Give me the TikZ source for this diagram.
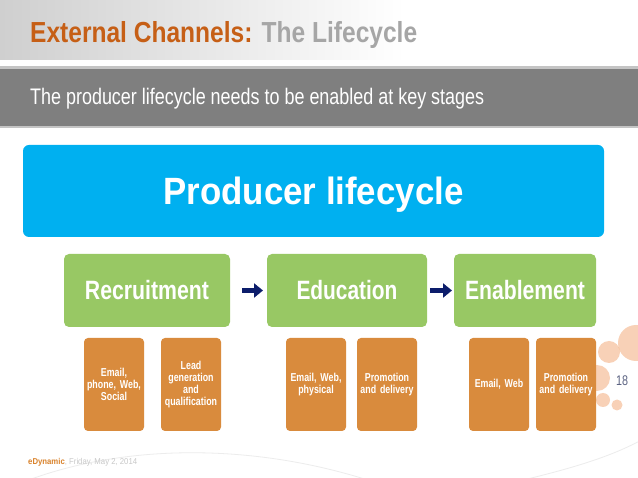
\documentclass[tikz,border=0pt]{standalone}
\usepackage{fontspec}
\setmainfont{Liberation Sans}
\newfontfamily\cnd[FakeStretch=0.77]{Liberation Sans}
\usepackage{graphicx}
\usetikzlibrary{arrows.meta}
\definecolor{ttlorange}{HTML}{C65F16}
\definecolor{ttlgray}{HTML}{A6A6A6}
\definecolor{bandgray}{HTML}{7F7F7F}
\definecolor{bandedge}{HTML}{C4C4C4}
\definecolor{hdrgray}{HTML}{CFCFCF}
\definecolor{plcblue}{HTML}{00B0F0}
\definecolor{stagegreen}{HTML}{98C864}
\definecolor{suborange}{HTML}{D98B3D}
\definecolor{arrownavy}{HTML}{0C1D6B}
\definecolor{pagenum}{HTML}{5B6382}
\definecolor{dotpeach}{HTML}{F2A570}
\definecolor{ftorange}{HTML}{D9822B}
\definecolor{ftgray}{HTML}{C8C8C8}
\definecolor{arcgray}{HTML}{ECECEC}
\newcommand\wfit[2]{\resizebox{#1}{\height}{#2}}
\tikzset{
  boxbase/.style={rectangle, inner sep=0pt, outer sep=0pt, anchor=north west, text=white},
  bluebox/.style={boxbase, fill=plcblue, rounded corners=6pt},
  stagebox/.style={boxbase, fill=stagegreen, rounded corners=5pt, minimum height=73pt},
  subbox/.style={boxbase, fill=suborange, rounded corners=4pt, minimum width=60pt, minimum height=93pt,
    text width=58pt, align=center, font=\cnd\bfseries\fontsize{11.5}{12}\selectfont},
  stagearrow/.style={draw=arrownavy, line width=5pt, -{Triangle[length=9pt,width=14pt]}},
  dot/.style={fill=dotpeach, fill opacity=0.5, draw=none},
  arcline/.style={draw=arcgray, line width=0.8pt},
}
\begin{document}
\begin{tikzpicture}[x=1pt,y=-1pt]
\useasboundingbox (0,0) rectangle (638,478);
\fill[white] (0,0) rectangle (638,478);
% header
\shade[left color=hdrgray, right color=white] (0,0) rectangle (405,60);
\fill[bandedge] (0,66) rectangle (638,69);
\fill[bandgray] (0,69) rectangle (638,126);
\fill[bandedge] (0,126) rectangle (638,128);
\node[anchor=base west, inner sep=0pt] (title) at (30,43)
  {\wfit{387pt}{\fontsize{29}{29}\selectfont\bfseries\textcolor{ttlorange}{External Channels:} \textcolor{ttlgray}{The Lifecycle}}};
\node[anchor=base west, inner sep=0pt, text=white] (subtitle) at (30,105)
  {\wfit{454pt}{\fontsize{22.5}{22.5}\selectfont The producer lifecycle needs to be enabled at key stages}};
% footer arcs
\begin{scope}
\clip (0,0) rectangle (638,478);
\draw[arcline] (0,492) .. controls (110,440) and (270,438) .. (412,496);
\draw[arcline] (515,482) .. controls (565,470) and (610,458) .. (645,438);
\end{scope}
% decorative dots
\fill[dot] (636,343) circle (18);
\fill[dot] (609,352) circle (11);
\fill[dot] (597,378) circle (13);
\fill[dot] (603,400) circle (7);
\fill[dot] (617,405) circle (5.5);
\node[text=pagenum, inner sep=0pt, anchor=base] (pg) at (622,386) {\cnd\fontsize{14}{14}\selectfont 18};
% main box
\node[bluebox, minimum width=581pt, minimum height=92pt, text depth=0pt] (plc) at (23,145)
  {\wfit{300pt}{\fontsize{38}{38}\selectfont\bfseries Producer lifecycle}};
% stages
\node[stagebox, minimum width=166pt] (rec) at (64,254)
  {\wfit{124pt}{\fontsize{26.5}{26.5}\selectfont\bfseries Recruitment}};
\node[stagebox, minimum width=160pt] (edu) at (267,254)
  {\wfit{101pt}{\fontsize{26.5}{26.5}\selectfont\bfseries Education}};
\node[stagebox, minimum width=142pt] (ena) at (454,254)
  {\wfit{120pt}{\fontsize{26.5}{26.5}\selectfont\bfseries Enablement}};
\draw[stagearrow, shorten <=12pt, shorten >=4pt] (rec.east) -- (edu.west);
\draw[stagearrow, shorten <=3pt, shorten >=2pt] (edu.east) -- (ena.west);
% sub boxes
\node[subbox] (r1) at (84,338) {Email,\\phone, Web,\\Social};
\node[subbox] (r2) at (161,338) {Lead\\generation\\and\\qualification};
\node[subbox] (e1) at (286,338) {Email, Web,\\physical};
\node[subbox] (e2) at (357,338) {Promotion\\and delivery};
\node[subbox] (n1) at (469,338) {Email, Web};
\node[subbox] (n2) at (536,338) {Promotion\\and delivery};
% footer
\node[anchor=base west, inner sep=0pt] (foot) at (28,465)
  {\wfit{109pt}{\fontsize{8.5}{8.5}\selectfont\textcolor{ftorange}{\bfseries eDynamic}\textcolor{ftgray}{, Friday, May 2, 2014}}};
\end{tikzpicture}
\end{document}
